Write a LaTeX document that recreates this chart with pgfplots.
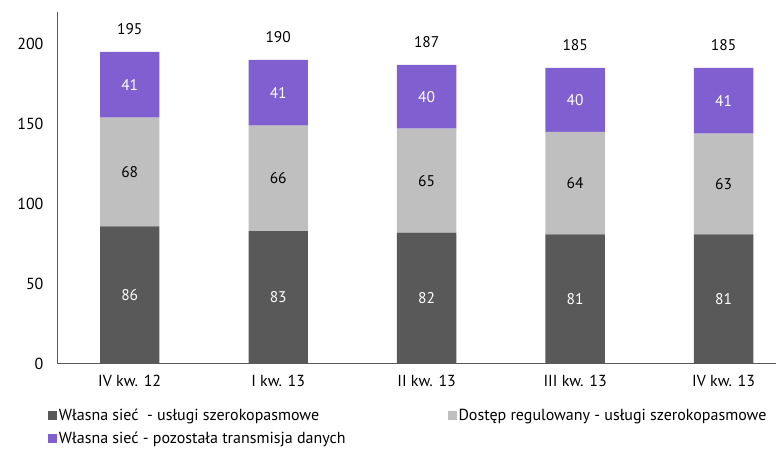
\documentclass[border=0pt]{standalone}
\usepackage{fontspec}
\setmainfont{PT Sans}
\usepackage{pgfplots}
\pgfplotsset{compat=1.18}
\definecolor{ciemny}{HTML}{595959}
\definecolor{jasny}{HTML}{BFBFBF}
\definecolor{fiolet}{HTML}{8060D0}
\pgfplotsset{srodek/.style={nodes near coords,
    nodes near coords style={anchor=center, text=#1,
      font=\fontsize{15.5bp}{17bp}\selectfont}}}
\begin{document}
\begin{tikzpicture}
\begin{axis}[
  scale only axis, width=719bp, height=352bp,
  ybar stacked, bar width=0.4,
  xmin=-0.49, xmax=4.35, ymin=0, ymax=220,
  axis lines=left, axis line style={ciemny, line width=0.8pt, -},
  xtick=data, xticklabels={IV kw. 12, I kw. 13, II kw. 13, III kw. 13, IV kw. 13},
  ytick={0,50,...,200}, major tick length=0pt,
  yticklabel style={xshift=-10bp},
  xticklabel style={yshift=-8bp},
  tick label style={font=\fontsize{16bp}{18bp}\selectfont},
  /pgf/number format/assume math mode=true,
  legend columns=2,
  legend cell align=left,
  legend style={at={(-0.017,-0.117)}, anchor=north west, draw=none,
    font=\fontsize{16bp}{18bp}\selectfont,
    /tikz/column 2/.append style={column sep=100bp},
    row sep=6bp},
  legend image code/.code={\fill[#1] (0bp,-4.5bp) rectangle (9bp,4.5bp);},
]
\addplot[fill=ciemny, draw=none, srodek=white]
  coordinates {(0,86) (1,83) (2,82) (3,81) (4,81)};
\addlegendentry{Własna sieć\ \ - usługi szerokopasmowe}
\addplot[fill=jasny, draw=none, srodek=black]
  coordinates {(0,68) (1,66) (2,65) (3,64) (4,63)};
\addlegendentry{Dostęp regulowany - usługi szerokopasmowe}
\addplot[fill=fiolet, draw=none, srodek=white]
  coordinates {(0,41) (1,41) (2,40) (3,40) (4,41)};
\addlegendentry{Własna sieć - pozostała transmisja danych}
% niewidoczny odcinek nad slupkiem, niesie etykiete sumy
\addplot[draw=none, fill=none, forget plot, point meta=explicit symbolic,
  srodek=black, nodes near coords style={yshift=4bp}]
  coordinates {(0,24)[195] (1,24)[190] (2,24)[187] (3,24)[185] (4,24)[185]};
\end{axis}
\path (-57bp,-83bp) rectangle (719bp,364bp);
\end{tikzpicture}
\end{document}
